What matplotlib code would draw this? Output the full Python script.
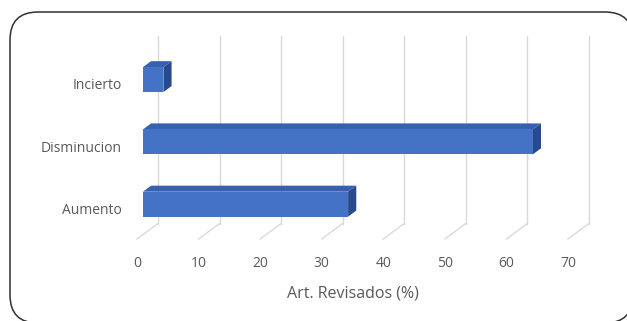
import matplotlib
matplotlib.use('Agg')
import matplotlib.pyplot as plt
from matplotlib.patches import Polygon, FancyBboxPatch

categories = ['Aumento', 'Disminucion', 'Incierto']
values = [33.33, 63.33, 3.33]  # Art. Revisados (%)
ticks = [0, 10, 20, 30, 40, 50, 60, 70]

plt.rcParams['font.family'] = ['Open Sans', 'DejaVu Sans']
txt = '#595959'
grid = '#d9d9d9'
front = '#4472c4'
top = '#3760b0'
side = '#2a4a8e'

fig = plt.figure(figsize=(6.27, 3.21), dpi=100)

# frame with rounded corners
bg = fig.add_axes([0, 0, 1, 1])
bg.set_xlim(0, 627)
bg.set_ylim(321, 0)
bg.axis('off')
bg.add_patch(FancyBboxPatch((10, 12), 623, 311, boxstyle='round,pad=0,rounding_size=28',
                            fc='white', ec='#303030', lw=1.1))

ax = fig.add_axes([137 / 627, (321 - 239) / 321, 431 / 627, 188 / 321])
ax.set_xlim(0, 70)
ax.set_ylim(-0.49, 2.53)
ax.patch.set_alpha(0)
for s in ax.spines.values():
    s.set_visible(False)

# depth vector of the 3d box (data units)
DX = 21 / (431 / 70)
DY = 15.5 / (188 / 3.02)
y0, y1 = ax.get_ylim()

for t in ticks:
    ax.plot([t, t + DX], [y0, y0 + DY], color=grid, lw=1, clip_on=False, zorder=1)
    ax.plot([t + DX, t + DX], [y0 + DY, y1 + DY], color=grid, lw=1, clip_on=False, zorder=1)

# bars, placed in the middle of the depth
d0, d1 = 0.28, 0.67
h = 0.4
for i, v in enumerate(values):
    lo, hi = i - h / 2, i + h / 2
    fx, fy = d0 * DX, d0 * DY
    bx, by = d1 * DX, d1 * DY
    ax.add_patch(Polygon([(fx, lo + fy), (v + fx, lo + fy), (v + fx, hi + fy), (fx, hi + fy)],
                         closed=True, fc=front, ec='none', zorder=4, clip_on=False))
    ax.add_patch(Polygon([(fx, hi + fy), (v + fx, hi + fy), (v + bx, hi + by), (bx, hi + by)],
                         closed=True, fc=top, ec='none', zorder=3, clip_on=False))
    ax.add_patch(Polygon([(v + fx, lo + fy), (v + bx, lo + by), (v + bx, hi + by), (v + fx, hi + fy)],
                         closed=True, fc=side, ec='none', zorder=3, clip_on=False))

ax.set_xticks(ticks)
ax.set_xticklabels([str(t) for t in ticks])
ax.set_yticks(range(len(categories)))
ax.set_yticklabels(categories)
ax.tick_params(axis='x', length=0, pad=12.5, labelsize=10, labelcolor=txt)
ax.tick_params(axis='y', length=0, pad=11, labelsize=10, labelcolor=txt)
ax.set_xlabel('Art. Revisados (%)', fontsize=11.5, color=txt, labelpad=10)

fig.savefig('out.png', dpi=100)
